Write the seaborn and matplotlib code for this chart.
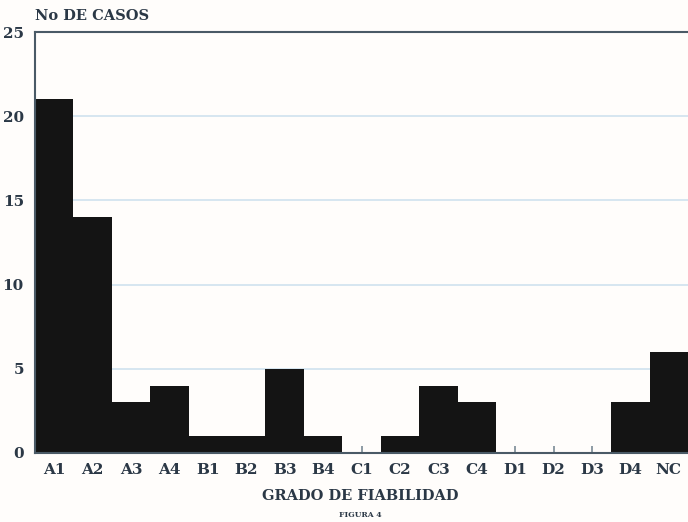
import matplotlib
matplotlib.use("Agg")
import matplotlib.pyplot as plt
import seaborn as sns
import pandas as pd

categories = ["A1", "A2", "A3", "A4", "B1", "B2", "B3", "B4", "C1",
              "C2", "C3", "C4", "D1", "D2", "D3", "D4", "NC"]
casos = [21, 14, 3, 4, 1, 1, 5, 1, 0, 1, 4, 3, 0, 0, 0, 3, 6]
y_ticks = [0, 5, 10, 15, 20, 25]

df = pd.DataFrame({"grado": categories, "casos": casos})

sns.set_theme(style="white")
plt.rcParams["font.family"] = ["DejaVu Serif", "Liberation Serif"]

text_color = "#2b3846"
fig = plt.figure(figsize=(6.88, 5.22), dpi=100)
fig.patch.set_facecolor("#fffdfb")
ax = fig.add_axes([35/688, 69/522, 1 - 35/688, (453-32)/522])
ax.set_facecolor("#fffdfb")

sns.barplot(data=df, x="grado", y="casos", order=categories, color="#141414",
            width=1.0, saturation=1, linewidth=0, ax=ax, zorder=2)

ax.set_xlim(-0.5, len(categories) - 0.5)
ax.set_ylim(0, 25)
ax.set_yticks(y_ticks)
ax.set_axisbelow(True)
ax.yaxis.grid(True, color="#cfe2ee", linewidth=1.2)
ax.xaxis.grid(False)

for side in ["left", "bottom", "top"]:
    ax.spines[side].set_visible(True)
    ax.spines[side].set_color("#4a5a66")
    ax.spines[side].set_linewidth(1.5)
ax.spines["right"].set_visible(False)

ax.tick_params(axis="x", bottom=True, direction="in", length=5, width=1.2,
               color="#7a8a96", labelsize=11, labelcolor=text_color, pad=7)
ax.tick_params(axis="y", left=False, length=0, labelsize=11,
               labelcolor=text_color, pad=8)
for lbl in ax.get_xticklabels() + ax.get_yticklabels():
    lbl.set_fontweight("bold")

ax.set_xlabel("")
ax.set_ylabel("")
fig.text(360/688, 1 - 496/522, "GRADO DE FIABILIDAD", ha="center", va="center",
         fontsize=10.5, fontweight="bold", color=text_color)
fig.text(360/688, 1 - 515/522, "FIGURA 4", ha="center", va="center",
         fontsize=5.5, fontweight="bold", color=text_color)
fig.text(35/688, 1 - 16/522, "No DE CASOS", ha="left", va="center",
         fontsize=10.5, fontweight="bold", color=text_color)

fig.savefig("out.png", dpi=100, facecolor=fig.get_facecolor())
